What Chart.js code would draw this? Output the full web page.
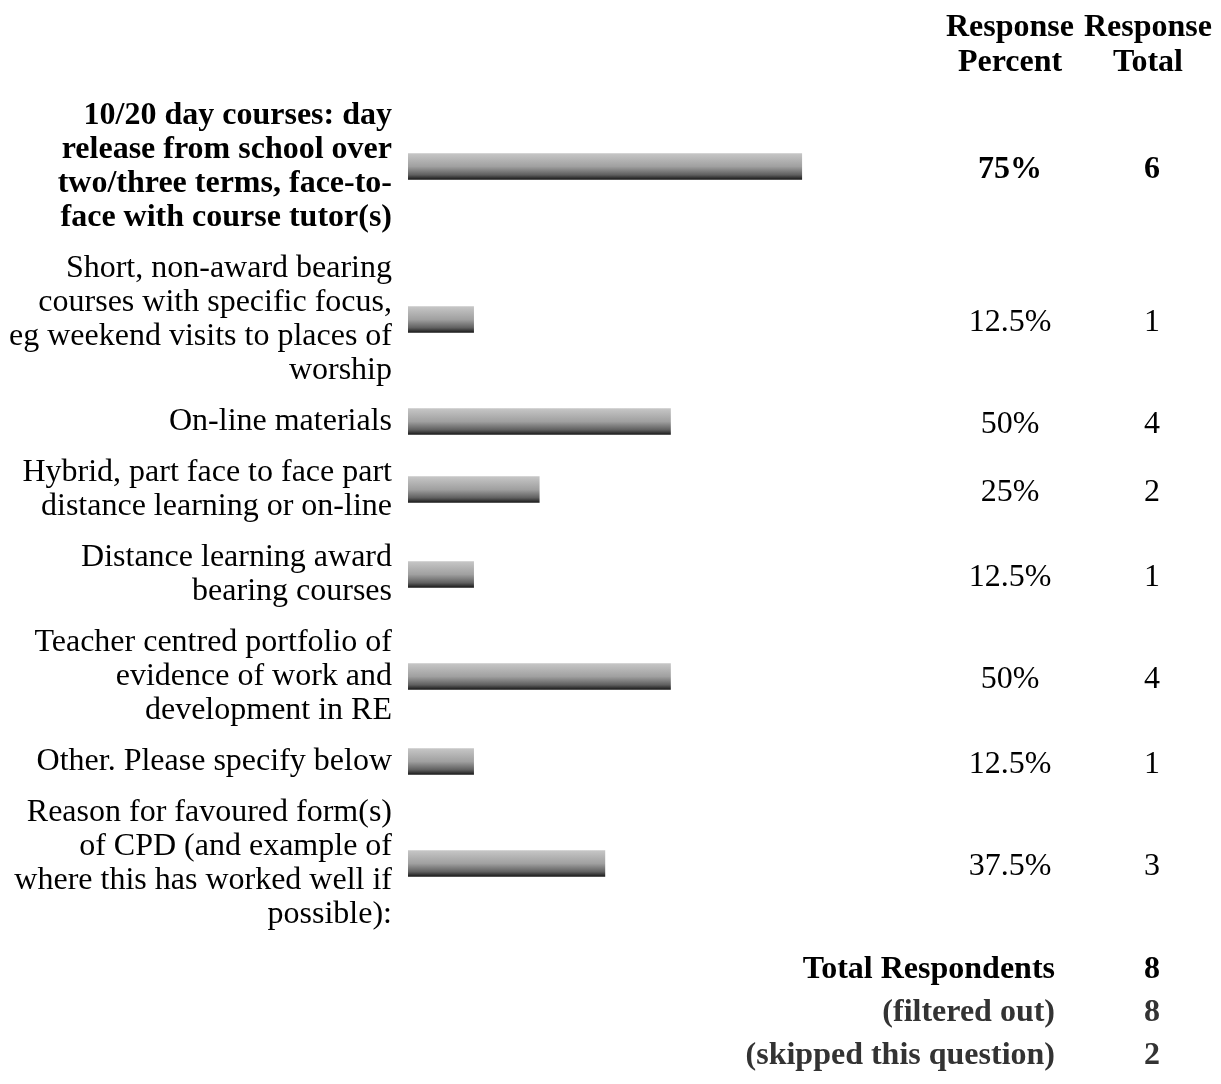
<!DOCTYPE html>
<html>
<head>
<meta charset="utf-8">
<title>Preferred forms of CPD</title>
<script src="https://cdn.jsdelivr.net/npm/chart.js@4"></script>
<style>
  body { margin: 0; background: #fff; }
  #wrap { width: 1221px; height: 1084px; }
</style>
</head>
<body>
<div id="wrap"><canvas id="cpd-chart" width="1221" height="1084"></canvas></div>
<script>
// Survey data
const categories = [
  ['10/20 day courses: day', 'release from school over', 'two/three terms, face-to-', 'face with course tutor(s)'],
  ['Short, non-award bearing', 'courses with specific focus,', 'eg weekend visits to places of', 'worship'],
  ['On-line materials'],
  ['Hybrid, part face to face part', 'distance learning or on-line'],
  ['Distance learning award', 'bearing courses'],
  ['Teacher centred portfolio of', 'evidence of work and', 'development in RE'],
  ['Other. Please specify below'],
  ['Reason for favoured form(s)', 'of CPD (and example of', 'where this has worked well if', 'possible):']
];
const responsePercent = [75, 12.5, 50, 25, 12.5, 50, 12.5, 37.5];
const responseTotal = [6, 1, 4, 2, 1, 4, 1, 3];
const percentLabels = ['75%', '12.5%', '50%', '25%', '12.5%', '50%', '12.5%', '37.5%'];
const headerLines = [['Response', 'Percent'], ['Response', 'Total']];
const summaryLabels = ['Total Respondents', '(filtered out)', '(skipped this question)'];
const summaryValues = [8, 8, 2];

const FONT = '"Liberation Serif", "Times New Roman", serif';
const GAP = 0.5; // space between rows, in text lines

// row centres in "line" units, based on how many lines each label has
const rowCenters = [];
let pos = 0;
categories.forEach(function (lines) {
  const h = lines.length + GAP;
  rowCenters.push(pos + h / 2);
  pos += h;
});
const totalRows = pos;

const barData = responsePercent.map(function (v, i) {
  return { x: v, y: rowCenters[i] };
});

function barGradient(context) {
  const chart = context.chart;
  const scale = chart.scales && chart.scales.y;
  if (!chart.chartArea || !scale) return '#999';
  const y = scale.getPixelForValue(rowCenters[context.dataIndex]);
  const g = chart.ctx.createLinearGradient(0, y - 13, 0, y + 13);
  g.addColorStop(0, '#c6c6c6');
  g.addColorStop(0.5, '#a0a0a0');
  g.addColorStop(0.82, '#606060');
  g.addColorStop(1, '#1a1a1a');
  return g;
}

// extra columns, header and summary
const tablePlugin = {
  id: 'surveyTable',
  afterDraw(chart) {
    const c = chart.ctx;
    const area = chart.chartArea;
    const yScale = chart.scales.y;
    const colX = [1010, 1152];
    c.save();
    c.fillStyle = '#000';
    c.textBaseline = 'middle';
    c.textAlign = 'center';

    c.font = 'bold 32px ' + FONT;
    headerLines.forEach(function (lines, col) {
      lines.forEach(function (t, k) {
        c.fillText(t, colX[col] - (col === 1 ? 4 : 0), 28 + k * 35);
      });
    });

    categories.forEach(function (_, i) {
      const y = yScale.getPixelForValue(rowCenters[i]) + 3;
      c.font = (i === 0 ? 'bold ' : '') + '32px ' + FONT;
      c.fillText(percentLabels[i], colX[0], y);
      c.fillText(String(responseTotal[i]), colX[1], y);
    });

    summaryLabels.forEach(function (t, i) {
      const y = area.bottom + 30 + i * 43;
      c.font = 'bold 32px ' + FONT;
      c.fillStyle = i === 0 ? '#000' : '#333';
      c.textAlign = 'right';
      c.fillText(t, 1055, y);
      c.textAlign = 'center';
      c.fillText(String(summaryValues[i]), colX[1], y);
    });
    c.restore();
  }
};

const ctx = document.getElementById('cpd-chart').getContext('2d');
const cpdChart = new Chart(ctx, {
  type: 'bar',
  data: {
    datasets: [{
      label: 'Response Percent',
      data: barData,
      backgroundColor: barGradient,
      borderWidth: 0,
      barThickness: 26
    }]
  },
  options: {
    indexAxis: 'y',
    responsive: false,
    animation: false,
    devicePixelRatio: 1,
    layout: { padding: { top: 90, bottom: 144, left: 0, right: 288 } },
    plugins: {
      legend: { display: false },
      tooltip: { enabled: false }
    },
    scales: {
      x: {
        type: 'linear',
        min: 0,
        max: 100,
        display: false
      },
      y: {
        type: 'linear',
        reverse: true,
        offset: false, // bar charts turn this on, it squeezes the rows
        min: 0,
        max: totalRows,
        grid: { display: false, drawTicks: false },
        border: { display: false },
        afterBuildTicks: function (axis) {
          axis.ticks = rowCenters.map(function (v) { return { value: v }; });
        },
        afterFit: function (axis) {
          axis.width = 408;
        },
        ticks: {
          autoSkip: false,
          padding: 16,
          color: '#000',
          font: function (context) {
            return {
              family: FONT,
              size: 32,
              lineHeight: 1.0625,
              weight: context.index === 0 ? 'bold' : 'normal'
            };
          },
          callback: function (value, index) {
            return categories[index];
          }
        }
      }
    }
  },
  plugins: [tablePlugin]
});
</script>
</body>
</html>
